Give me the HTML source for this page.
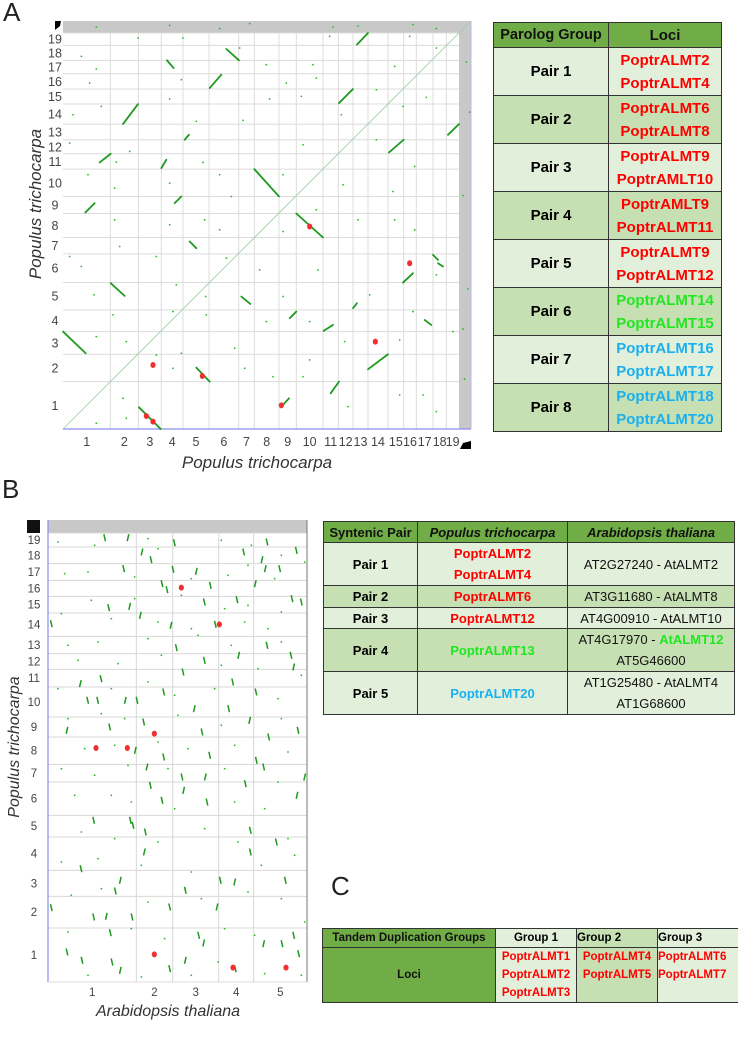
<!DOCTYPE html>
<html><head><meta charset="utf-8">
<style>
body{margin:0;width:738px;height:1041px;background:#fff;position:relative;overflow:hidden;font-family:"Liberation Sans",sans-serif}
svg{position:absolute;left:0;top:0}
table{position:absolute;border-collapse:collapse;font-family:"Liberation Sans",sans-serif;font-weight:bold;text-align:center}
td,th{border:1px solid #333;padding:0}
.h{background:#70ad47;color:#111}
.l{background:#e2efda}.d{background:#c6e0b4}
.r{color:#ff0000}.g{color:#22e622}.b{color:#1ab0f0}
.n{font-weight:normal;color:#111}
.lab{position:absolute;font-size:26px;color:#222}
</style></head><body>
<div class="lab" style="left:3px;top:-3px">A</div>
<div class="lab" style="left:2px;top:474px">B</div>
<div class="lab" style="left:331px;top:871px">C</div>
<svg id="s" width="738" height="1041"></svg>

<table style="left:493px;top:22px;width:229px;font-size:15px">
<tr style="height:25px"><th class="h" style="width:114px;font-size:14.5px">Parolog Group</th><th class="h">Loci</th></tr>
<tr class="l" style="height:48px"><td>Pair 1</td><td class="r" style="line-height:23px">PoptrALMT2<br>PoptrALMT4</td></tr>
<tr class="d" style="height:48px"><td>Pair 2</td><td class="r" style="line-height:23px">PoptrALMT6<br>PoptrALMT8</td></tr>
<tr class="l" style="height:48px"><td>Pair 3</td><td class="r" style="line-height:23px">PoptrALMT9<br>PoptrAMLT10</td></tr>
<tr class="d" style="height:48px"><td>Pair 4</td><td class="r" style="line-height:23px">PoptrAMLT9<br>PoptrALMT11</td></tr>
<tr class="l" style="height:48px"><td>Pair 5</td><td class="r" style="line-height:23px">PoptrALMT9<br>PoptrALMT12</td></tr>
<tr class="d" style="height:48px"><td>Pair 6</td><td class="g" style="line-height:23px">PoptrALMT14<br>PoptrALMT15</td></tr>
<tr class="l" style="height:48px"><td>Pair 7</td><td class="b" style="line-height:23px">PoptrALMT16<br>PoptrALMT17</td></tr>
<tr class="d" style="height:48px"><td>Pair 8</td><td class="b" style="line-height:23px">PoptrALMT18<br>PoptrALMT20</td></tr>
</table>

<table style="left:323px;top:521px;width:412px;font-size:13px">
<tr style="height:21px"><th class="h" style="width:93px">Syntenic Pair</th><th class="h" style="width:149px;font-style:italic">Populus trichocarpa</th><th class="h" style="font-style:italic">Arabidopsis thaliana</th></tr>
<tr class="l" style="height:42px"><td>Pair 1</td><td class="r" style="line-height:21px">PoptrALMT2<br>PoptrALMT4</td><td class="n">AT2G27240 - AtALMT2</td></tr>
<tr class="d" style="height:22px"><td>Pair 2</td><td class="r">PoptrALMT6</td><td class="n">AT3G11680 - AtALMT8</td></tr>
<tr class="l" style="height:21px"><td>Pair 3</td><td class="r">PoptrALMT12</td><td class="n">AT4G00910 - AtALMT10</td></tr>
<tr class="d" style="height:42px"><td>Pair 4</td><td class="g">PoptrALMT13</td><td class="n" style="line-height:21px">AT4G17970 - <span class="g" style="font-weight:bold">AtALMT12</span><br>AT5G46600</td></tr>
<tr class="l" style="height:43px"><td>Pair 5</td><td class="b">PoptrALMT20</td><td class="n" style="line-height:21px">AT1G25480 - AtALMT4<br>AT1G68600</td></tr>
</table>

<table style="left:322px;top:928px;width:420px;font-size:11.5px">
<tr style="height:19px"><th class="h" style="width:172px">Tandem Duplication Groups</th><th class="l" style="width:80px">Group 1</th><th class="d" style="width:80px;text-align:left">Group 2</th><th class="l" style="text-align:left">Group 3</th></tr>
<tr style="height:55px"><td class="h">Loci</td><td class="l r" style="line-height:18px;vertical-align:top">PoptrALMT1<br>PoptrALMT2<br>PoptrALMT3</td><td class="d r" style="line-height:18px;vertical-align:top">PoptrALMT4<br>PoptrALMT5</td><td class="l r" style="line-height:18px;vertical-align:top;text-align:left">PoptrALMT6<br>PoptrALMT7</td></tr>
</table>

<script>
// ---- Panel A data (genome units) ----
const aXSizes=[142,84,69,65,78,89,47,74,52,80,46,44,45,60,47,38,50,40,38];
const aYSizes=[142,82,68,65,82,86,49,72,51,82,46,42,47,60,45,46,40,45,37];
const aChromLabels=["1","2","3","4","5","6","7","8","9","10","11","12","13","14","15","16","17","18","19"];
const aSegments=[[0,292,68,227],[228,65,293,0],[400,184,440,142],[574,779,648,697],[700,646,780,574],[180,914,225,974],[110,799,143,825],[828,977,870,1019],[882,1152,915,1187],[978,829,1022,867],[915,179,975,224],[143,437,185,399],[67,649,95,677],[1155,882,1188,914],[440,1022,475,1062],[803,107,828,142],[1020,439,1050,467],[680,332,700,352],[782,294,810,312],[295,782,310,807],[1085,327,1105,312],[312,1105,332,1082],[335,677,355,697],[365,867,378,882],[870,362,882,377],[535,397,562,375],[380,562,400,542],[1110,522,1125,507],[1125,497,1140,487],[655,67,678,92],[490,1139,528,1105]];
const aDots=[[100,17],[190,32],[180,92],[330,182],[355,227],[545,182],[630,157],[720,157],[855,67],[1010,102],[1080,102],[1120,52],[100,277],[190,262],[280,222],[515,242],[740,207],[845,262],[1010,267],[1170,292],[150,342],[330,352],[430,342],[610,322],[740,322],[1050,352],[93,402],[340,432],[428,397],[660,397],[920,402],[20,517],[55,487],[280,517],[490,512],[590,477],[765,477],[1120,462],[170,547],[320,612],[470,597],[660,592],[885,627],[1055,597],[155,627],[425,627],[760,657],[995,627],[155,722],[320,737],[505,697],[840,732],[990,712],[75,762],[470,762],[660,762],[1055,787],[160,800],[420,799],[720,852],[940,867],[20,857],[200,832],[400,922],[540,925],[835,942],[1020,967],[30,942],[115,967],[320,989],[620,989],[715,997],[1090,994],[80,1037],[355,1047],[670,1037],[760,1052],[940,1017],[100,1079],[610,1092],[750,1092],[995,1087],[55,1117],[530,1142],[1120,1142],[225,1172],[360,1172],[800,1177],[1040,1177],[100,1205],[320,1210],[470,1200],[560,1215],[810,1205],[885,1208],[1050,1212],[1120,1200],[1205,150],[1215,420],[1200,700],[1220,950],[1210,1100],[1200,300]];
const aRed=[[270,192],[250,39],[270,22],[418,159],[655,71],[740,607],[937,262],[1040,497]];
// ---- Panel B data ----
const bXSizes=[265,109,138,105,160];
const bXLabels=["1","2","3","4","5"];
const bYSizes=[162,95,78,100,65,100,53,82,60,90,53,47,52,70,50,48,50,50,42];
const bYLabels=["1","2","3","4","5","6","7","8","9","10","11","12","13","14","15","16","17","18","19"];
const bDashes=[[170,1333],[240,1333],[379,1318],[657,1320],[282,1290],[309,1267],[587,1290],[642,1267],[745,1295],[695,1240],[652,1240],[227,1240],[375,1238],[445,1232],[342,1195],[357,1177],[487,1190],[622,1195],[567,1147],[469,1140],[245,1127],[182,1123],[732,1150],[760,1140],[369,1070],[502,1073],[10,1075],[277,1100],[385,1003],[657,1010],[572,980],[729,980],[469,965],[737,945],[554,900],[159,910],[405,930],[97,895],[119,845],[149,845],[232,845],[267,845],[347,870],[439,820],[542,820],[624,870],[287,780],[605,785],[750,755],[185,765],[57,755],[462,750],[347,675],[262,695],[485,680],[625,665],[662,735],[297,645],[307,590],[402,615],[472,615],[592,595],[647,645],[770,615],[137,485],[247,485],[292,450],[407,575],[342,545],[477,540],[747,560],[607,455],[685,420],[607,390],[289,390],[255,470],[99,340],[217,305],[202,273],[517,305],[560,300],[712,305],[412,275],[365,225],[507,225],[137,195],[252,195],[175,197],[10,223],[737,140],[647,115],[702,115],[752,85],[452,140],[412,65],[192,60],[562,40],[217,35],[365,40],[102,65],[467,117],[57,90],[187,148]];
const bDashDir=[1,-1,1,1,-1,1,1,-1,1,1,-1,1,1,-1,1,1,1,-1,1,1,-1,1,1,1,-1,1,1,-1,1,1,-1,1,1,-1,1,1,1,-1,1,1,-1,1,1,-1,1,1,1,-1,1,1,-1,1,1,-1,1,1,1,-1,1,1,-1,1,1,-1,1,1,1,-1,1,1,-1,1,1,1,-1,1,1,-1,1,1,-1,1,1,1,-1,1,1,-1,1,1,-1,1,1,1,-1,1,1,-1,1,1,-1,1,1,1];
const bDots=[[30,1320],[140,1310],[300,1330],[330,1300],[520,1325],[610,1310],[700,1280],[770,1260],[50,1225],[120,1230],[260,1215],[430,1210],[540,1220],[600,1250],[680,1210],[130,1145],[260,1150],[400,1160],[530,1120],[600,1130],[700,1110],[40,1105],[190,1090],[330,1080],[430,1060],[590,1080],[660,1060],[60,1010],[150,1020],[300,1030],[450,1040],[550,1010],[700,1020],[90,965],[210,955],[340,980],[520,950],[630,940],[760,920],[30,880],[190,880],[300,900],[380,860],[500,880],[690,850],[60,790],[160,805],[230,790],[390,800],[520,770],[700,790],[110,700],[200,710],[330,720],[420,700],[560,710],[720,690],[40,640],[140,620],[240,650],[360,640],[530,640],[690,600],[80,560],[190,560],[250,540],[380,520],[560,540],[650,520],[100,450],[200,430],[330,420],[470,460],[570,420],[720,430],[40,360],[150,370],[280,350],[430,330],[640,350],[740,380],[70,260],[160,280],[300,240],[460,250],[600,270],[700,250],[60,150],[250,160],[350,130],[530,160],[620,140],[770,180],[120,20],[280,15],[430,20],[510,60],[650,25],[760,20]];
const bRed=[[400,1183],[514,1073],[319,745],[144,702],[238,702],[319,83],[555,43],[714,43]];

const NS="http://www.w3.org/2000/svg";
const svg=document.getElementById('s');
function mk(tag,attrs,parent){const e=document.createElementNS(NS,tag);for(const k in attrs)e.setAttribute(k,attrs[k]);(parent||svg).appendChild(e);return e;}
function sum(a){return a.reduce((x,y)=>x+y,0);}

// Panel A axes
const AX0=63,AX1=459,AY0=429,AY1=33;
const aXT=sum(aXSizes),aYT=sum(aYSizes);
const xA=u=>AX0+u*(AX1-AX0)/aXT;
const yA=v=>AY0-v*(AY0-AY1)/aYT;
const gA=mk('g',{});


mk('rect',{x:AX0,y:21,width:408,height:12,fill:'#c8c8c8'},gA);
mk('rect',{x:AX1,y:21,width:12,height:408,fill:'#c8c8c8'},gA);
let c=0;
aXSizes.forEach((s,i)=>{const x0=xA(c);c+=s;const x1=xA(c);
 if(i<aXSizes.length-1)mk('line',{x1:x1,y1:AY1,x2:x1,y2:AY0,stroke:'#dcdcdc','stroke-width':1},gA);
 const t=mk('text',{x:(x0+x1)/2,y:446,'font-size':12.5,'text-anchor':'middle',fill:'#444'},gA);t.textContent=aChromLabels[i];
 
 });
c=0;
aYSizes.forEach((s,i)=>{const y0=yA(c);c+=s;const y1=yA(c);
 mk('line',{x1:AX0,y1:y1,x2:AX1,y2:y1,stroke:'#dcdcdc','stroke-width':1},gA);
 const t=mk('text',{x:55,y:(y0+y1)/2+4.5,'font-size':12.5,'text-anchor':'middle',fill:'#444'},gA);t.textContent=aChromLabels[i];
 
 });
mk('line',{x1:xA(0),y1:yA(0),x2:471,y2:21,stroke:'#9ccf9c','stroke-width':0.8},gA);
mk('line',{x1:AX0,y1:AY0,x2:471,y2:AY0,stroke:'#8c8cf0','stroke-width':1.2},gA);
mk('line',{x1:471,y1:21,x2:471,y2:AY0,stroke:'#b8b8f0','stroke-width':1},gA);
mk('polygon',{points:'55,21 61,21 60,26 55,30',fill:'#000'},gA);
mk('polygon',{points:'460,449 463,443 471,441 471,449',fill:'#000'},gA);
aDots.forEach(p=>{const e=mk('circle',{cx:xA(p[0]),cy:yA(p[1]),r:0.9,fill:'#2cb82c'},gA);
 
 });
aSegments.forEach(s=>{const e=mk('line',{x1:xA(s[0]),y1:yA(s[1]),x2:xA(s[2]),y2:yA(s[3]),stroke:'#1e9a1e','stroke-width':1.8,'stroke-linecap':'round'},gA);
 
 });
aRed.forEach(p=>{const e=mk('ellipse',{cx:xA(p[0]),cy:yA(p[1]),rx:2.6,ry:3,fill:'#f03030'},gA);
 
 });
let t=mk('text',{x:257,y:468,'font-size':17,'font-style':'italic','text-anchor':'middle',fill:'#333'});t.textContent='Populus trichocarpa';


t=mk('text',{x:0,y:0,'font-size':17,'font-style':'italic','text-anchor':'middle',fill:'#333',transform:'translate(41,204) rotate(-90)'});t.textContent='Populus trichocarpa';



// Panel B axes
const BX0=48,BX1=307,BY0=982,BY1=533;
const bXT=sum(bXSizes),bYT=sum(bYSizes);
const xB=u=>BX0+u*(BX1-BX0)/bXT;
const yB=v=>BY0-v*(BY0-BY1)/bYT;
const gB=mk('g',{});


mk('rect',{x:BX0,y:520,width:BX1-BX0,height:13,fill:'#c8c8c8'},gB);
c=0;
bXSizes.forEach((s,i)=>{const x0=xB(c);c+=s;const x1=xB(c);
 if(i<bXSizes.length-1)mk('line',{x1:x1,y1:BY1,x2:x1,y2:BY0,stroke:'#d8d8d8','stroke-width':1},gB);
 const t=mk('text',{x:(x0+x1)/2,y:996,'font-size':11.5,'text-anchor':'middle',fill:'#444'},gB);t.textContent=bXLabels[i];
 
 });
c=0;
bYSizes.forEach((s,i)=>{const y0=yB(c);c+=s;const y1=yB(c);
 mk('line',{x1:BX0,y1:y1,x2:BX1,y2:y1,stroke:'#d8d8d8','stroke-width':1},gB);
 const t=mk('text',{x:34,y:(y0+y1)/2+4,'font-size':11.5,'text-anchor':'middle',fill:'#444'},gB);t.textContent=bYLabels[i];
 
 });
mk('line',{x1:BX0,y1:520,x2:BX0,y2:BY0,stroke:'#8c8cf0','stroke-width':1.2},gB);
mk('line',{x1:BX1,y1:520,x2:BX1,y2:BY0,stroke:'#777','stroke-width':1},gB);
mk('line',{x1:BX0,y1:BY0,x2:BX1,y2:BY0,stroke:'#ddd','stroke-width':1},gB);
mk('rect',{x:27,y:520,width:13,height:13,fill:'#111'},gB);
bDots.forEach(p=>{const e=mk('circle',{cx:xB(p[0]),cy:yB(p[1]),r:0.9,fill:'#2cb82c'},gB);
 
 });
bDashes.forEach((p,i)=>{const d=bDashDir[i];const x=xB(p[0]),y=yB(p[1]);
 const e=mk('line',{x1:x-0.8*d,y1:y-3.5,x2:x+0.8*d,y2:y+3.5,stroke:'#1e9a1e','stroke-width':1.5},gB);
 
 });
bRed.forEach(p=>{const e=mk('ellipse',{cx:xB(p[0]),cy:yB(p[1]),rx:2.6,ry:3,fill:'#f03030'},gB);
 
 });
t=mk('text',{x:168,y:1016,'font-size':16,'font-style':'italic','text-anchor':'middle',fill:'#333'});t.textContent='Arabidopsis thaliana';


t=mk('text',{x:0,y:0,'font-size':16,'font-style':'italic','text-anchor':'middle',fill:'#333',transform:'translate(19,747) rotate(-90)'});t.textContent='Populus trichocarpa';


</script>
</body></html>
